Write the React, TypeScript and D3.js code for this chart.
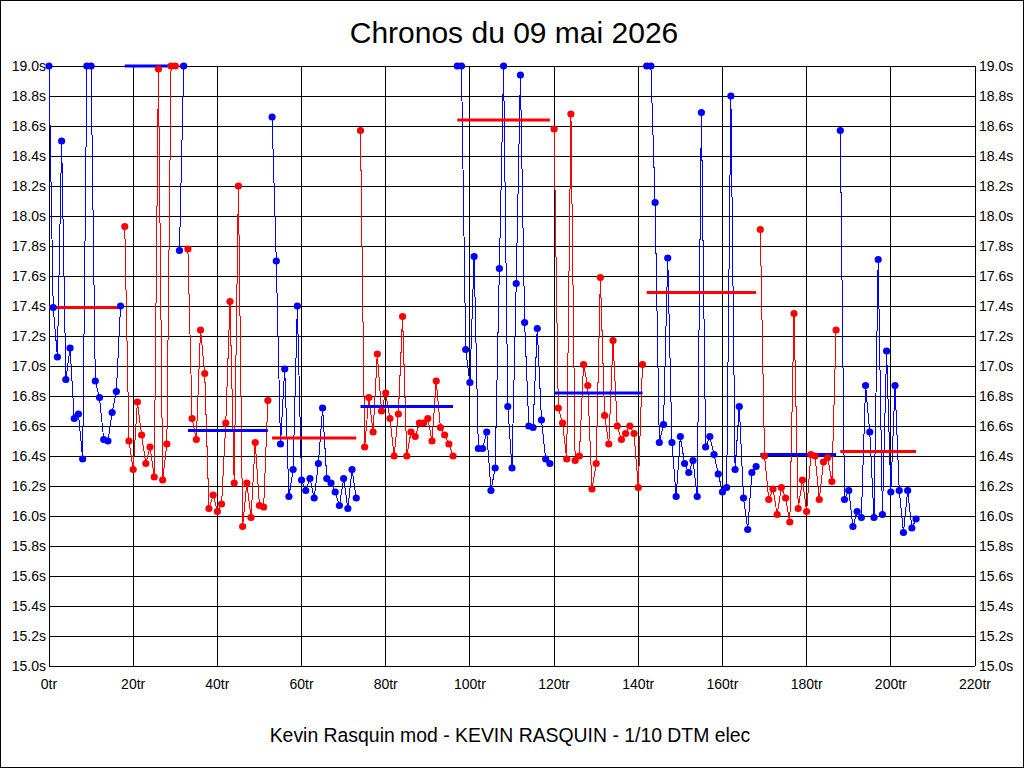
import React from 'react'
import * as d3 from 'd3'

// lap times (values above 19s are clipped to the top)
const lapTimes: number[] = [
    19.0, 17.39, 17.06, 18.5, 16.91, 17.12, 16.65, 16.68, 16.38, 19.0,
    19.0, 16.9, 16.79, 16.51, 16.5, 16.69, 16.83, 17.4, 17.93, 16.5,
    16.31, 16.76, 16.54, 16.35, 16.46, 16.26, 18.98, 16.24, 16.48, 19.0,
    19.0, 17.77, 19.0, 17.78, 16.65, 16.51, 17.24, 16.95, 16.05, 16.14,
    16.03, 16.08, 16.62, 17.43, 16.22, 18.2, 15.93, 16.22, 15.99, 16.49,
    16.07, 16.06, 16.77, 18.66, 17.7, 16.48, 16.98, 16.13, 16.31, 17.4,
    16.24, 16.17, 16.25, 16.12, 16.35, 16.72, 16.25, 16.22, 16.16, 16.07,
    16.25, 16.05, 16.31, 16.12, 18.57, 16.46, 16.79, 16.56, 17.08, 16.7,
    16.82, 16.65, 16.4, 16.68, 17.33, 16.4, 16.56, 16.53, 16.62, 16.62,
    16.65, 16.5, 16.9, 16.59, 16.54, 16.48, 16.4, 19.0, 19.0, 17.11,
    16.89, 17.73, 16.45, 16.45, 16.56, 16.17, 16.32, 17.65, 19.0, 16.73,
    16.32, 17.55, 18.94, 17.29, 16.6, 16.59, 17.25, 16.64, 16.38, 16.35,
    18.58, 16.72, 16.62, 16.38, 18.68, 16.37, 16.4, 17.01, 16.87, 16.18,
    16.35, 17.59, 16.67, 16.48, 17.17, 16.6, 16.51, 16.55, 16.6, 16.55,
    16.19, 17.01, 19.0, 19.0, 18.09, 16.49, 16.61, 17.72, 16.49, 16.13,
    16.53, 16.35, 16.29, 16.37, 16.13, 18.69, 16.46, 16.53, 16.41, 16.28,
    16.16, 16.19, 18.8, 16.31, 16.73, 16.12, 15.91, 16.29, 16.33, 17.91,
    16.4, 16.11, 16.18, 16.01, 16.19, 16.12, 15.96, 17.35, 16.05, 16.24,
    16.03, 16.41, 16.4, 16.11, 16.36, 16.39, 16.23, 17.24, 18.57, 16.11,
    16.17, 15.93, 16.03, 15.99, 16.87, 16.56, 15.99, 17.71, 16.01, 17.1,
    16.16, 16.87, 16.17, 15.89, 16.17, 15.92, 15.98
]

// first lap of each run, and the average drawn over it
const runStarts: number[] = [0, 18, 31, 33, 53, 74, 97, 120, 142, 169, 188]
const runAverages: number[] = [17.39, 19.0, 19.0, 16.57, 16.52, 16.73, 18.64, 16.82, 17.49, 16.41, 16.43]

const yTicks: number[] = [15.0, 15.2, 15.4, 15.6, 15.8, 16.0, 16.2, 16.4, 16.6, 16.8, 17.0, 17.2, 17.4, 17.6, 17.8, 18.0, 18.2, 18.4, 18.6, 18.8, 19.0]
const xTicks: number[] = [0, 20, 40, 60, 80, 100, 120, 140, 160, 180, 200, 220]

const title = 'Chronos du 09 mai 2026'
const footer = 'Kevin Rasquin mod - KEVIN RASQUIN - 1/10 DTM elec'

const width = 1024
const height = 768
const font = '"Liberation Sans", Arial, sans-serif'

const x = d3.scaleLinear().domain([0, 220]).range([49, 975])
const y = d3.scaleLinear().domain([15, 19]).range([666, 66])

const BLUE = '#0000ff'
const RED = '#ff0000'

const App = () => {
    const runs = runStarts.map((start, i) => {
        const end = i < runStarts.length - 1 ? runStarts[i + 1] - 1 : lapTimes.length - 1
        const laps = d3.range(start, end + 1)
        return {
            start,
            end,
            laps,
            avg: runAverages[i],
            color: i % 2 === 0 ? BLUE : RED,
            avgColor: i % 2 === 0 ? RED : BLUE
        }
    })

    const line = d3.line<number>()
        .x(lap => x(lap))
        .y(lap => y(lapTimes[lap]))

    return (
        <div style={{ position: 'absolute', left: 0, top: 0 }}>
            <svg width={width} height={height} style={{ display: 'block', background: 'white' }}>
                <rect x={0.5} y={0.5} width={width - 1} height={height - 1} fill="white" stroke="black" />

                <text x={514} y={43} textAnchor="middle" fontFamily={font} fontSize={30} fill="black">{title}</text>

                {/* grid */}
                <g stroke="black" strokeWidth={1} shapeRendering="crispEdges">
                    {yTicks.map(t => (
                        <line key={`gy-${t}`} x1={x(0)} x2={x(220)} y1={y(t)} y2={y(t)} />
                    ))}
                    {xTicks.map(t => (
                        <line key={`gx-${t}`} x1={x(t)} x2={x(t)} y1={y(15)} y2={y(19)} />
                    ))}
                </g>

                {/* tick labels */}
                <g fontFamily={font} fontSize={14} fill="black">
                    {yTicks.map(t => (
                        <text key={`yl-${t}`} x={46} y={y(t)} dy="0.35em" textAnchor="end">{t.toFixed(1)}s</text>
                    ))}
                    {yTicks.map(t => (
                        <text key={`yr-${t}`} x={979} y={y(t)} dy="0.35em" textAnchor="start">{t.toFixed(1)}s</text>
                    ))}
                    {xTicks.map(t => (
                        <text key={`xl-${t}`} x={x(t)} y={689} textAnchor="middle">{t}tr</text>
                    ))}
                </g>

                {/* lap lines */}
                {runs.map((r, i) => (
                    <path key={`run-${i}`} d={line(r.laps) || ''} fill="none" stroke={r.color}
                          strokeWidth={1} shapeRendering="crispEdges" />
                ))}

                {/* run averages */}
                {runs.map((r, i) => (
                    <line key={`avg-${i}`} x1={x(r.start)} x2={x(r.end)} y1={y(r.avg)} y2={y(r.avg)}
                          stroke={r.avgColor} strokeWidth={3} />
                ))}

                {/* lap dots */}
                {runs.map((r, i) => (
                    <g key={`dots-${i}`} fill={r.color}>
                        {r.laps.map(lap => (
                            <circle key={`dot-${lap}`} cx={x(lap)} cy={y(lapTimes[lap])} r={3.6} />
                        ))}
                    </g>
                ))}

                <text x={510} y={742} textAnchor="middle" fontFamily={font} fontSize={19.4} fill="black">{footer}</text>
            </svg>
        </div>
    )
}

export default App
